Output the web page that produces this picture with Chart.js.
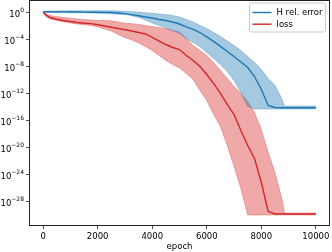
<!DOCTYPE html>
<html>
<head>
<meta charset="utf-8">
<script src="https://cdn.jsdelivr.net/npm/chart.js@4"></script>
<style>
html, body { margin: 0; padding: 0; background: #fff; }
</style>
</head>
<body>
<canvas id="chart" width="332" height="252"></canvas>
<script>
const epochs = [0, 100, 250, 500, 750, 1000, 1250, 1500, 1750, 2000, 2250, 2500, 2750, 3000,
    3250, 3500, 3750, 4000, 4250, 4500, 4750, 5000, 5250, 5500, 5750, 6000, 6250, 6500, 6750,
    7000, 7250, 7500, 7750, 8000, 8250, 8500, 8750, 8850, 9000, 9250, 9500, 9750, 10000];

// log10 of the values (y axis is log)
const hMeanLog = [0.07, 0.07, 0.06, 0.06, 0.04, 0.03, 0.03, 0.015, 0, -0.015, -0.03, -0.044, -0.13, -0.22,
    -0.37, -0.52, -0.71, -0.86, -1.08, -1.23, -1.45, -1.75, -2.19, -2.56, -3.01, -3.67, -4.33, -5.07, -5.82,
    -6.56, -7.38, -8.19, -9.53, -11.45, -13.82, -14.12, -14.16, -14.16, -14.16, -14.15, -14.16, -14.16, -14.16];
const hUpperLog = [0.13, 0.16, 0.18, 0.19, 0.21, 0.21, 0.22, 0.22, 0.22, 0.22, 0.22, 0.22, 0.19, 0.13,
    0.07, 0.015, -0.07, -0.16, -0.27, -0.37, -0.49, -0.71, -1.08, -1.45, -1.97, -2.41, -3.01, -3.6, -4.27,
    -4.93, -5.67, -6.56, -7.45, -8.49, -9.82, -10.86, -12.79, -13.9, -13.9, -13.9, -13.9, -13.9, -13.9];
const hLowerLog = [0.03, 0, -0.015, -0.044, -0.06, -0.07, -0.09, -0.1, -0.13, -0.16, -0.19, -0.24, -0.3, -0.34,
    -0.52, -0.79, -1.16, -1.6, -1.97, -2.34, -2.71, -3.16, -3.9, -4.49, -5.08, -5.97, -6.86, -7.75, -8.79,
    -10.12, -11.9, -13.97, -14.34, -14.34, -14.34, -14.34, -14.34, -14.34, -14.34, -14.34, -14.34, -14.34, -14.34];

const lossMeanLog = [0, -0.41, -0.79, -1.05, -1.23, -1.38, -1.53, -1.63, -1.7, -1.87, -2.04, -2.24, -2.41, -2.61,
    -2.79, -3.01, -3.23, -3.75, -4.27, -4.79, -5.23, -5.53, -6.41, -7.16, -8.04, -9.23, -10.56, -12.04, -13.67,
    -15.16, -17.53, -19.75, -21.67, -25.23, -29.53, -29.9, -29.9, -29.9, -29.9, -29.9, -29.9, -29.9, -29.9];
const lossUpperLog = [0.03, -0.19, -0.49, -0.64, -0.79, -0.89, -1.01, -1.08, -1.16, -1.23, -1.23, -1.27, -1.45, -1.64,
    -1.7, -1.82, -1.97, -2.12, -2.27, -2.46, -2.71, -2.93, -3.9, -4.93, -5.67, -6.41, -7.45, -8.64, -9.82,
    -11.01, -12.04, -13.23, -14.86, -17.38, -20.79, -23.76, -27.6, -29.75, -29.75, -29.75, -29.75, -29.75, -29.75];
const lossLowerLog = [-0.04, -0.64, -1.01, -1.23, -1.45, -1.6, -1.75, -1.87, -1.97, -2.19, -2.49, -2.79, -3.3, -3.75,
    -4.12, -4.56, -5.08, -5.67, -6.41, -7.16, -7.75, -8.27, -9.08, -9.97, -11.6, -13.08, -15.16, -16.93, -19.75,
    -22.86, -26.12, -30.04, -30.04, -30.04, -30.04, -30.04, -30.04, -30.04, -30.04, -30.04, -30.04, -30.04, -30.04];

const xTicks = [0, 2000, 4000, 6000, 8000, 10000];
const yTickExp = [0, -4, -8, -12, -16, -20, -24, -28];
const yTickSup = ['0', '−4', '−8', '−12', '−16', '−20', '−24', '−28'];

const blue = '#1f77b4', red = '#d62728';
const blueFill = 'rgba(31, 119, 180, 0.4)', redFill = 'rgba(214, 39, 40, 0.4)';
const font = { family: 'DejaVu Sans', size: 8.5 };

const toPoints = (logs) => epochs.map((e, i) => ({ x: e, y: Math.pow(10, logs[i]) }));

const frame = {
    id: 'frame',
    afterDraw(chart) {
        const { ctx, chartArea: a } = chart;
        ctx.save();
        ctx.strokeStyle = '#222';
        ctx.lineWidth = 1;
        ctx.strokeRect(a.left, a.top, a.right - a.left, a.bottom - a.top);
        ctx.restore();
    }
};

// y tick labels as 10 with a raised exponent, placed by the y scale
const powerLabels = {
    id: 'powerLabels',
    afterDraw(chart) {
        const { ctx } = chart;
        const ys = chart.scales.y;
        const right = ys.right - 5.5;
        ctx.save();
        ctx.fillStyle = '#000';
        ctx.textAlign = 'right';
        ctx.textBaseline = 'alphabetic';
        yTickExp.forEach((e, i) => {
            const py = ys.getPixelForValue(Math.pow(10, e));
            ctx.font = '6px ' + font.family;
            const sw = ctx.measureText(yTickSup[i]).width;
            ctx.fillText(yTickSup[i], right, py + 0.3);
            ctx.font = font.size + 'px ' + font.family;
            ctx.fillText('10', right - sw, py + 4.4);
        });
        ctx.restore();
    }
};

const legendBox = {
    id: 'legendBox',
    afterDraw(chart) {
        const { ctx, chartArea: a } = chart;
        const items = chart.data.datasets.filter(d => d.showInLegend);
        const x = a.right - 80, y = a.top + 2.5, w = 76, h = 29;
        ctx.save();
        ctx.beginPath();
        ctx.roundRect(x, y, w, h, 2);
        ctx.fillStyle = 'rgba(255,255,255,0.8)';
        ctx.fill();
        ctx.strokeStyle = '#ccc';
        ctx.lineWidth = 1;
        ctx.stroke();
        ctx.font = font.size + 'px ' + font.family;
        ctx.textBaseline = 'middle';
        items.forEach((d, i) => {
            const ly = y + 9.5 + i * 11.7;
            ctx.strokeStyle = d.borderColor;
            ctx.lineWidth = 1.4;
            ctx.beginPath();
            ctx.moveTo(x + 3, ly);
            ctx.lineTo(x + 22, ly);
            ctx.stroke();
            ctx.fillStyle = '#000';
            ctx.fillText(d.label, x + 27, ly + 0.5);
        });
        ctx.restore();
    }
};

const band = (label, logs, color, fill) => ({
    label: label,
    data: toPoints(logs),
    borderColor: color,
    backgroundColor: color,
    borderWidth: 0.8,
    pointRadius: 0,
    fill: fill,
    order: 2
});

new Chart(document.getElementById('chart'), {
    type: 'line',
    data: {
        datasets: [
            { label: 'H rel. error', data: toPoints(hMeanLog), borderColor: blue, borderWidth: 1.4,
              pointRadius: 0, fill: false, order: 0, showInLegend: true },
            { label: 'loss', data: toPoints(lossMeanLog), borderColor: red, borderWidth: 1.4,
              pointRadius: 0, fill: false, order: 0, showInLegend: true },
            band('H upper', hUpperLog, blueFill, '+1'),
            band('H lower', hLowerLog, blueFill, false),
            band('loss upper', lossUpperLog, redFill, '+1'),
            band('loss lower', lossLowerLog, redFill, false)
        ]
    },
    options: {
        responsive: false,
        animation: false,
        layout: { padding: { top: 0.5, right: 2, left: 0, bottom: 0 } },
        plugins: { legend: { display: false }, tooltip: { enabled: false } },
        elements: { line: { tension: 0 } },
        scales: {
            x: {
                type: 'linear',
                min: -500,
                max: 10500,
                bounds: 'data',
                afterBuildTicks: (s) => { s.ticks = xTicks.map(v => ({ value: v })); },
                afterFit: (s) => { s.height = 26.5; },
                ticks: { font: font, color: '#000', padding: 2.5, maxRotation: 0, autoSkip: false,
                         callback: (v) => String(v) },
                grid: { drawOnChartArea: false, tickLength: 3.5, color: '#222', tickWidth: 0.8 },
                border: { display: false },
                title: { display: true, text: 'epoch', font: font, color: '#000', padding: { top: 1, bottom: 0 } }
            },
            y: {
                type: 'logarithmic',
                min: Math.pow(10, -31.6),
                max: Math.pow(10, 1.73),
                bounds: 'data',
                afterBuildTicks: (s) => { s.ticks = yTickExp.map(e => ({ value: Math.pow(10, e) })); },
                afterFit: (s) => { s.width = 29.5; },
                ticks: { display: false },
                grid: { drawOnChartArea: false, tickLength: 3.5, color: '#222', tickWidth: 0.8 },
                border: { display: false }
            }
        }
    },
    plugins: [frame, powerLabels, legendBox]
});
</script>
</body>
</html>
